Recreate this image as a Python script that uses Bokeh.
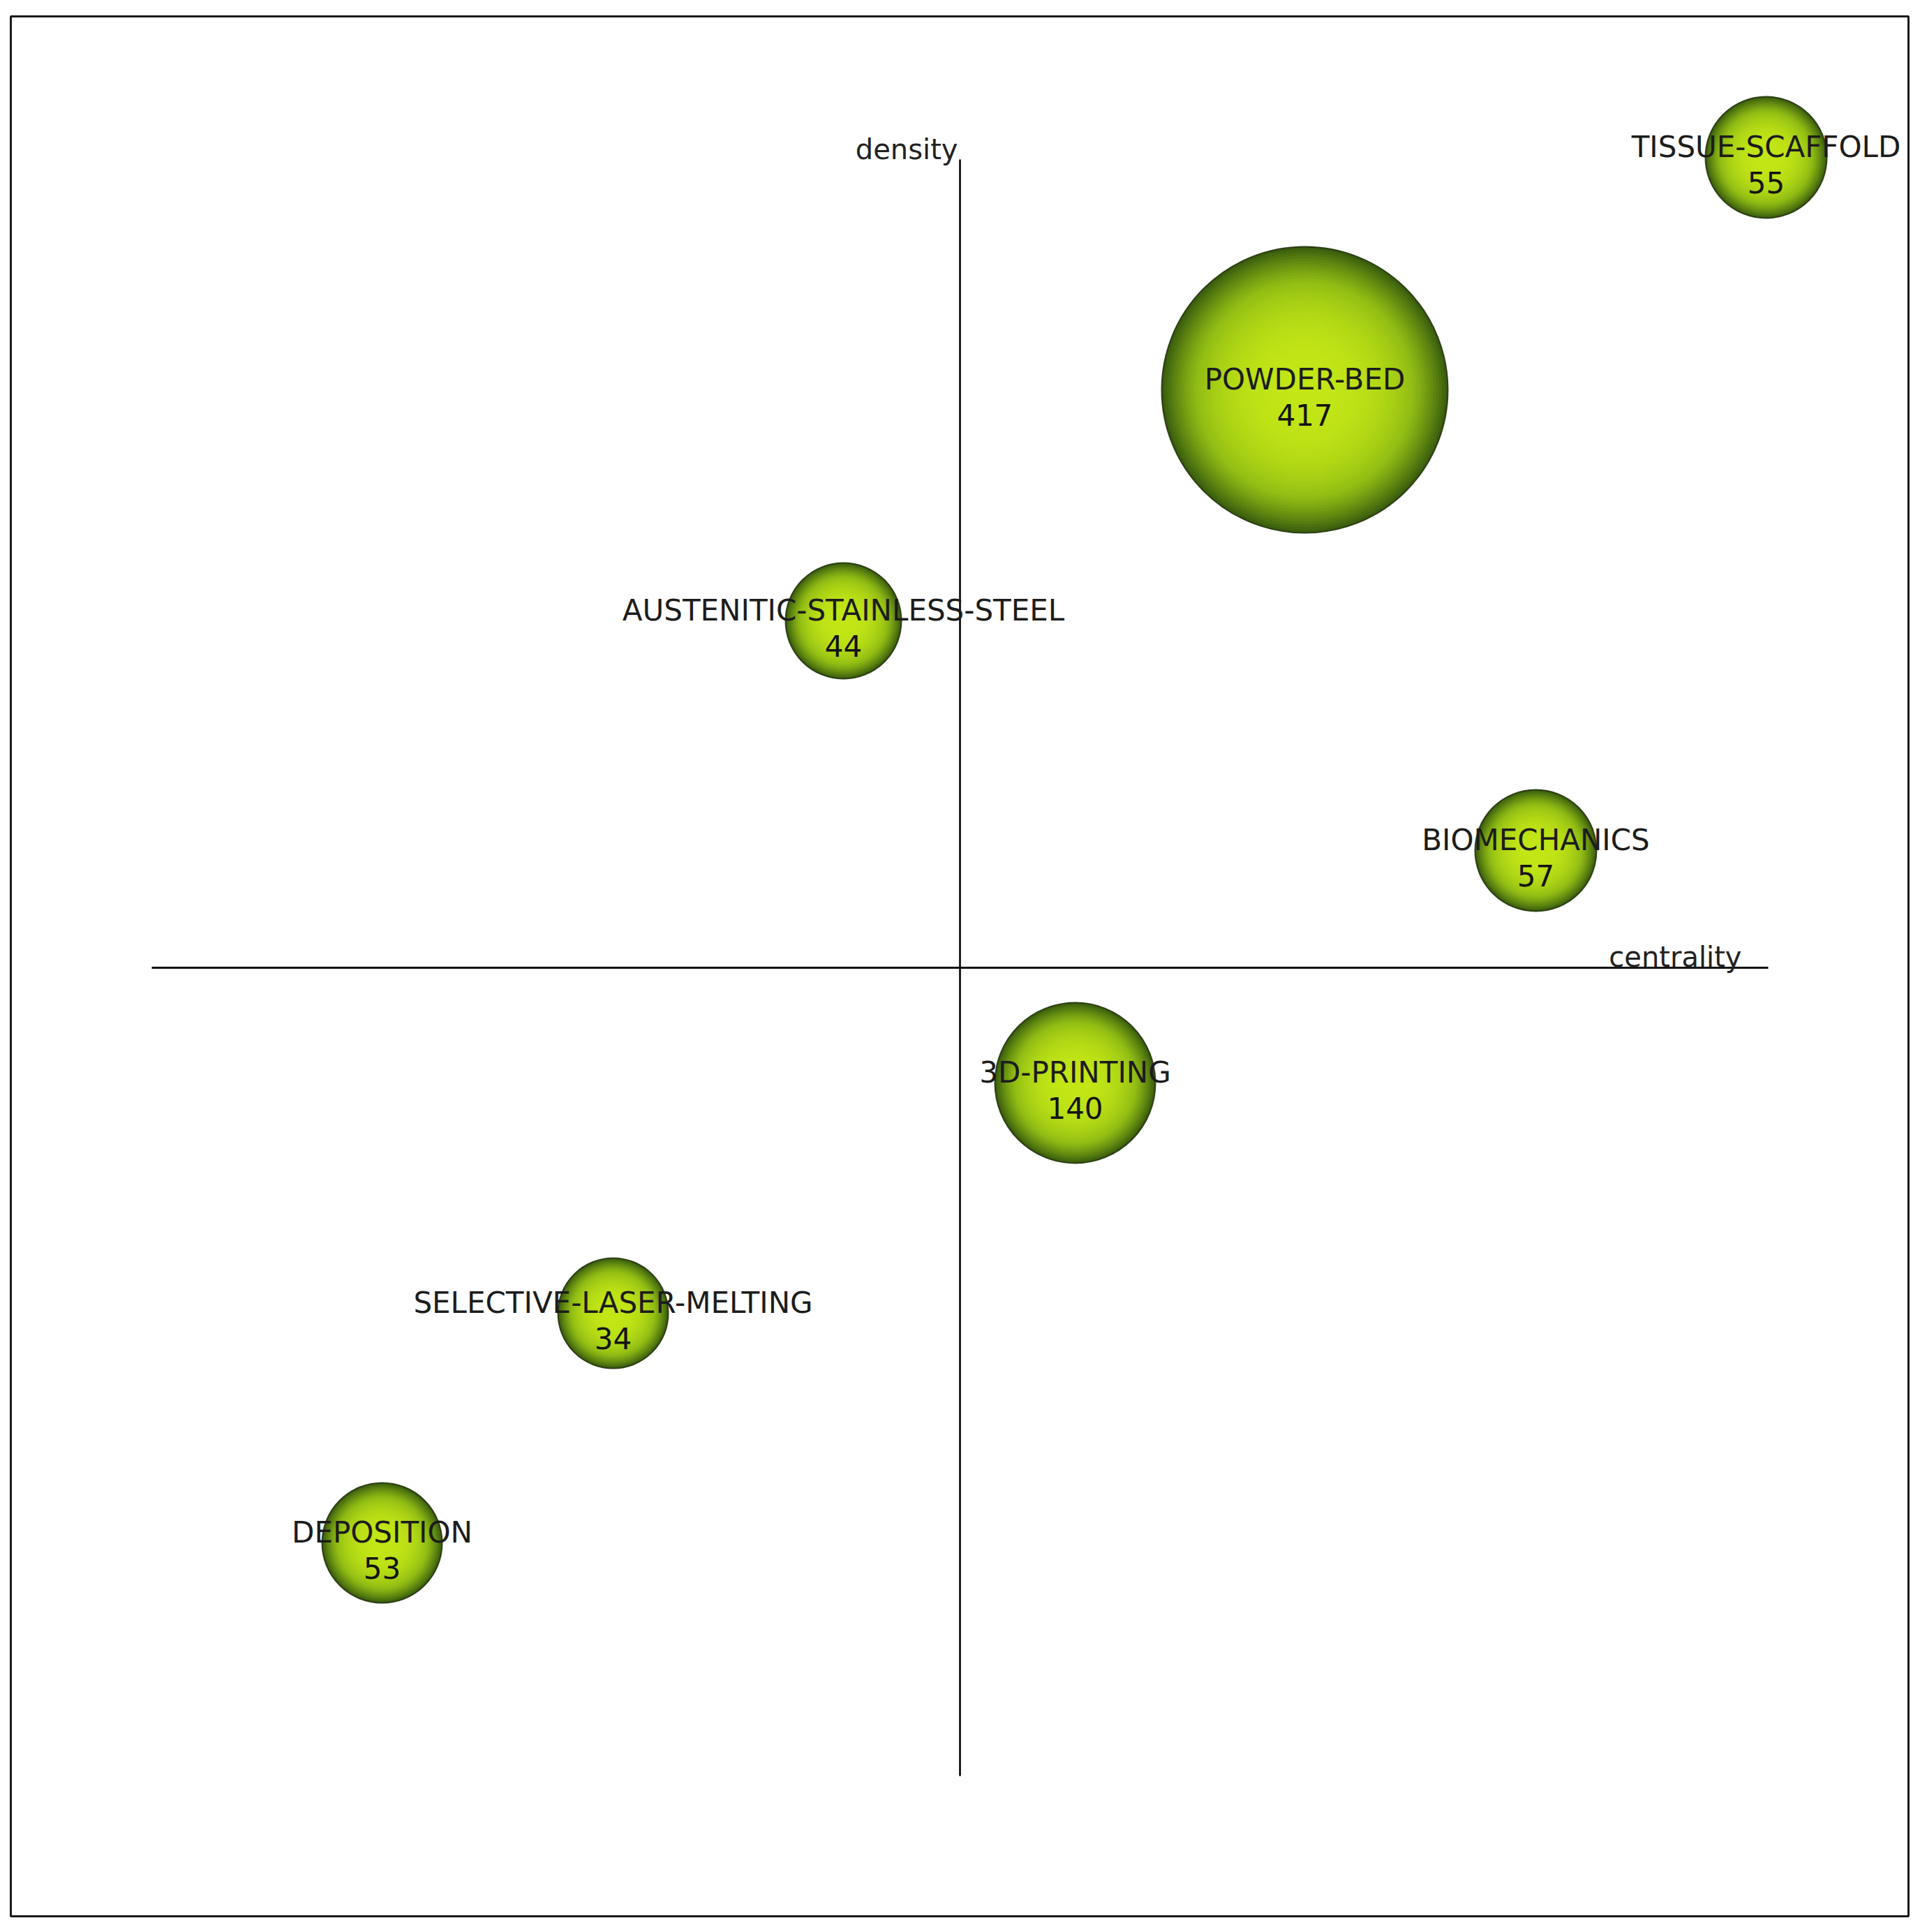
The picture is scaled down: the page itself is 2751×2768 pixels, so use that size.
import numpy as np
from bokeh.plotting import figure
from bokeh.models import ColumnDataSource, Range1d
from bokeh.core.properties import value
from bokeh.embed import file_html
from bokeh.resources import INLINE

# ---- data (strategic diagram: centrality vs density) ----
themes = ["TISSUE-SCAFFOLD", "POWDER-BED", "AUSTENITIC-STAINLESS-STEEL",
          "BIOMECHANICS", "3D-PRINTING", "SELECTIVE-LASER-MELTING", "DEPOSITION"]
counts = [55, 417, 44, 57, 140, 34, 53]
centrality = [11.55, 4.94, -1.67, 8.25, 1.65, -4.97, -8.28]
density = [11.61, 8.28, 4.97, 1.68, -1.65, -4.95, -8.24]
cluster_size = [0.87, 2.05, 0.83, 0.87, 1.15, 0.79, 0.86]
axis_extent = 11.58

# ---- figure ----
p = figure(frame_width=2719, frame_height=2722,
           x_range=Range1d(-13.60, 13.59), y_range=Range1d(-13.59, 13.63),
           x_axis_type=None, y_axis_type=None,
           output_backend="svg", toolbar_location=None,
           min_border_left=15, min_border_right=9,
           min_border_top=23, min_border_bottom=15)
p.grid.visible = False
p.background_fill_color = "white"
p.border_fill_color = "white"
p.outline_line_color = "#1a1a1a"
p.outline_line_width = 3

# ---- axes crossing lines ----
p.segment(x0=[-axis_extent, 0], y0=[0, -axis_extent], x1=[axis_extent, 0], y1=[0, axis_extent],
          line_color="#111111", line_width=2.8)
p.text(x=[0], y=[axis_extent], text=["density"], text_align="right", text_baseline="alphabetic",
       x_offset=-3, y_offset=-15, text_font=value("DejaVu Sans"), text_font_size="40px",
       text_color="#222222")
p.text(x=[axis_extent], y=[0], text=["centrality"], text_align="right", text_baseline="alphabetic",
       x_offset=-38, y_offset=-16, text_font=value("DejaVu Sans"), text_font_size="40px",
       text_color="#222222")

# ---- radial-gradient bubbles (concentric rings) ----
center_rgb = np.array([194, 230, 22], dtype=float)
mid_rgb = np.array([145, 188, 20], dtype=float)
edge_rgb = np.array([58, 94, 14], dtype=float)
N = 50
rx, ry, rr, rc = [], [], [], []
for k in range(N):
    s = 1.0 - k / N
    g = s ** 3
    if g > 0.45:
        t = (g - 0.45) / 0.55
        col = mid_rgb + (edge_rgb - mid_rgb) * t
    else:
        t = g / 0.45
        col = center_rgb + (mid_rgb - center_rgb) * t
    hexc = "#%02x%02x%02x" % tuple(int(round(c)) for c in col)
    for cx, cy, cr in zip(centrality, density, cluster_size):
        rx.append(cx); ry.append(cy); rr.append(cr * s); rc.append(hexc)
rings = ColumnDataSource(dict(x=rx, y=ry, r=rr, c=rc))
p.circle(x="x", y="y", radius="r", fill_color="c", line_color=None, source=rings)

src = ColumnDataSource(dict(x=centrality, y=density, r=cluster_size,
                            name=themes, n=[str(c) for c in counts]))
p.circle(x="x", y="y", radius="r", fill_color=None, line_color="#26340c",
         line_width=2, line_alpha=0.9, source=src)

# ---- labels ----
p.text(x="x", y="y", text="name", source=src, text_align="center", text_baseline="alphabetic",
       y_offset=-15, text_font=value("DejaVu Sans"), text_font_size="42px", text_color="#1c1c1c")
p.text(x="x", y="y", text="n", source=src, text_align="center", text_baseline="alphabetic",
       y_offset=36, text_font=value("DejaVu Sans"), text_font_size="42px", text_color="#141414")

open("out.html", "w").write(file_html(p, INLINE))
